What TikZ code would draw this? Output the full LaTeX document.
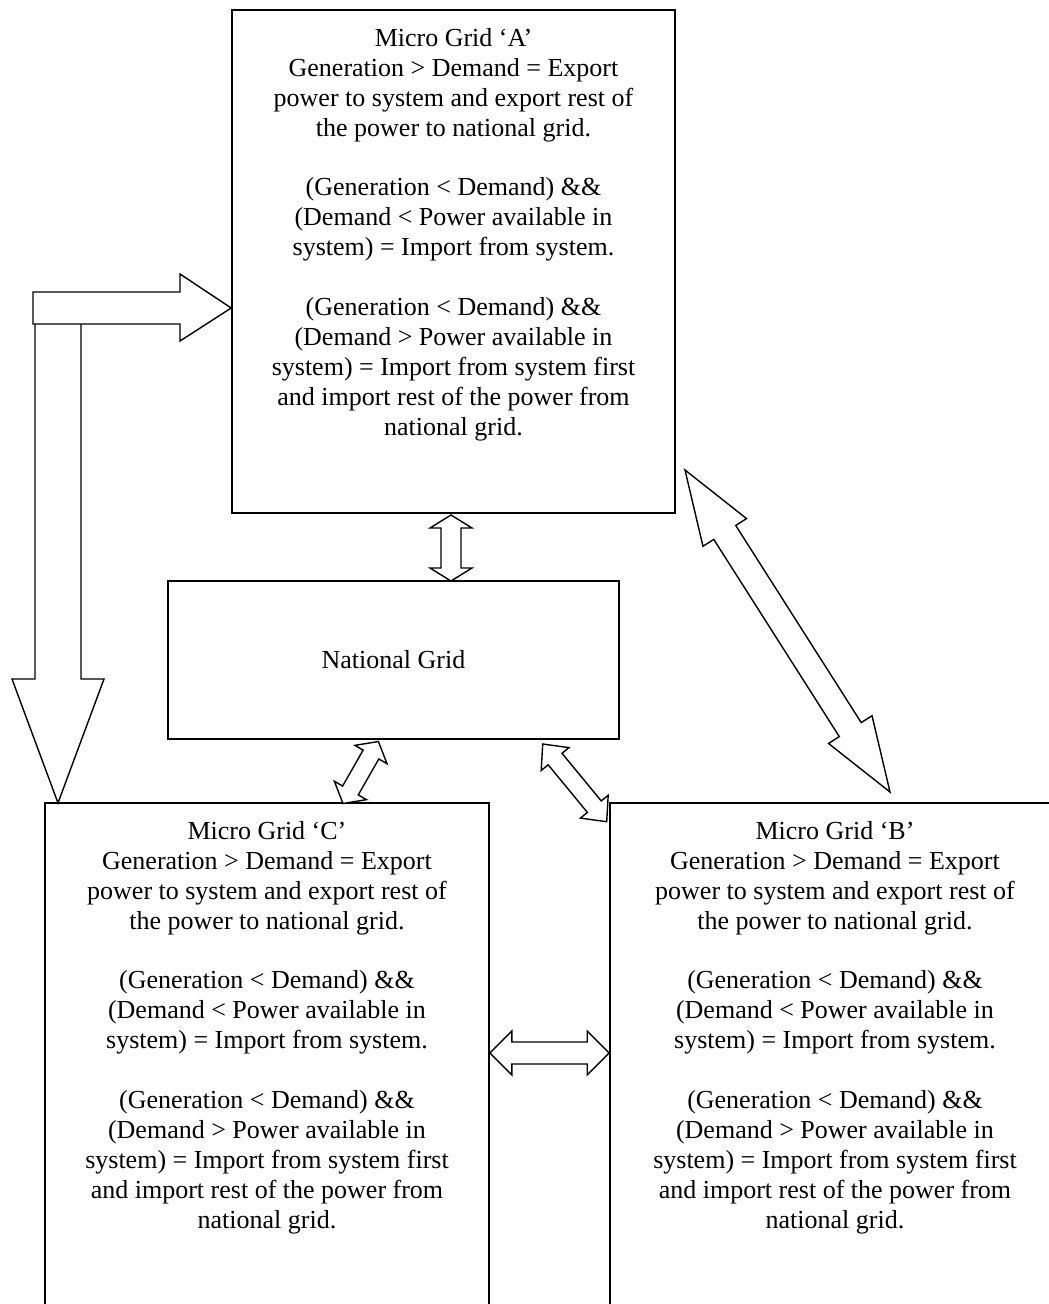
\documentclass[tikz,border=0pt]{standalone}
\usepackage{fontspec}
\setmainfont{Liberation Serif}
\usetikzlibrary{calc}
\newcommand\dblarrow[5]{%
  \coordinate (ha) at ($(#1)!#5!(#2)$);
  \coordinate (hb) at ($(#2)!#5!(#1)$);
  \draw[blockarrow] (#1) -- ($(ha)!#3!90:(#2)$) -- ($(ha)!#4!90:(#2)$)
    -- ($(hb)!#4!-90:(#1)$) -- ($(hb)!#3!-90:(#1)$) -- (#2)
    -- ($(hb)!#3!90:(#1)$) -- ($(hb)!#4!90:(#1)$)
    -- ($(ha)!#4!-90:(#2)$) -- ($(ha)!#3!-90:(#2)$) -- cycle;}
\newcommand\gridtext[1]{Micro Grid ‘#1’\\
Generation > Demand = Export\\
power to system and export rest of\\
the power to national grid.\\[29.9pt]
(Generation < Demand) \&\&\\
(Demand < Power available in\\
system) = Import from system.\\[29.9pt]
(Generation < Demand) \&\&\\
(Demand > Power available in\\
system) = Import from system first\\
and import rest of the power from\\
national grid.}
\begin{document}
\begin{tikzpicture}[x=1pt,y=-1pt,
  box/.style={draw=black, line width=1.6pt, fill=white, inner sep=0pt, rectangle},
  txt/.style={align=center, inner sep=0pt, font=\fontsize{26}{29.9}\selectfont},
  blockarrow/.style={draw=black, line width=1.4pt, fill=white, line join=miter}]
\useasboundingbox (0,0) rectangle (1049,1304);
\clip (0,0) rectangle (1049,1304);
\fill[white] (0,0) rectangle (1049,1304);
% boxes
\node[box, minimum width=443pt, minimum height=503pt] (A) at (453.5,261.5) {};
\node[box, minimum width=451pt, minimum height=158pt] (NG) at (393.5,660) {};
\node[box, minimum width=444pt, minimum height=520pt] (C) at (267,1063) {};
\node[box, minimum width=450pt, minimum height=520pt] (B) at (835,1063) {};
% texts
\node[txt, anchor=north] (tA) at ($(A.north)+(0,19)$) {\gridtext{A}};
\node[txt] (tNG) at (NG.center) {National Grid};
\node[txt, anchor=north] (tC) at ($(C.north)+(0,19)$) {\gridtext{C}};
\node[txt, anchor=north] (tB) at ($(B.north)+(0,19)$) {\gridtext{B}};
% L-shaped arrows
\coordinate (vs) at (35,310);
\draw[blockarrow] (vs) -- (35,679) -- (12,679) -- (58,803) -- (104,679) -- (81,679) -- (81,310) -- cycle;
\draw[blockarrow] (33,292) -- (180,292) -- (180,274) -- (A.west |- 0,308) -- (180,341) -- (180,324) -- (33,324) -- cycle;
% double arrows
\coordinate (a1) at (451,515);
\coordinate (a2) at (451,581);
\dblarrow{a1}{a2}{21pt}{10pt}{13pt}
\coordinate (c1) at (378.4,741.5);
\coordinate (c2) at (343,803.5);
\dblarrow{c1}{c2}{18.5pt}{9pt}{15pt}
\coordinate (b1) at (542.7,744);
\coordinate (b2) at (606.7,821.7);
\dblarrow{b1}{b2}{18pt}{9pt}{19.5pt}
\coordinate (d1) at (685,470);
\coordinate (d2) at (890,792);
\dblarrow{d1}{d2}{25.8pt}{13pt}{74pt}
% C-B arrow
\coordinate (e1) at (C.east |- 0,1053);
\coordinate (e2) at (B.west |- 0,1053);
\dblarrow{e1}{e2}{22pt}{11pt}{22pt}
\end{tikzpicture}
\end{document}
